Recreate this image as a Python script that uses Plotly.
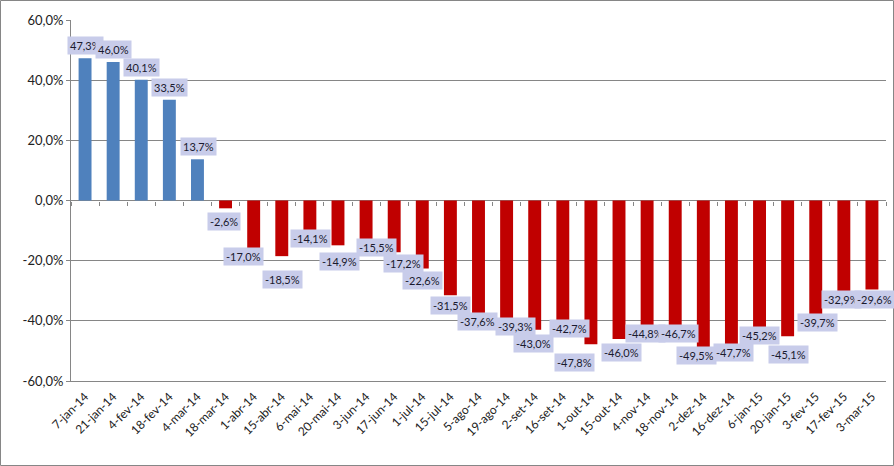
import plotly.graph_objects as go

categories = ["7-jan-14", "21-jan-14", "4-fev-14", "18-fev-14", "4-mar-14", "18-mar-14",
              "1-abr-14", "15-abr-14", "6-mai-14", "20-mai-14", "3-jun-14", "17-jun-14",
              "1-jul-14", "15-jul-14", "5-ago-14", "19-ago-14", "2-set-14", "16-set-14",
              "1-out-14", "15-out-14", "4-nov-14", "18-nov-14", "2-dez-14", "16-dez-14",
              "6-jan-15", "20-jan-15", "3-fev-15", "17-fev-15", "3-mar-15"]
values = [47.3, 46.0, 40.1, 33.5, 13.7, -2.6, -17.0, -18.5, -14.1, -14.9, -15.5, -17.2,
          -22.6, -31.5, -37.6, -39.3, -43.0, -42.7, -47.8, -46.0, -44.8, -46.7, -49.5,
          -47.7, -45.2, -45.1, -39.7, -32.9, -29.6]
y_tickvals = [-60, -40, -20, 0, 20, 40, 60]
y_ticktext = ["-60,0%", "-40,0%", "-20,0%", "0,0%", "20,0%", "40,0%", "60,0%"]

# label offsets (pixels, style only): horizontal shift and downward shift of label centre
label_dx = [0, 0, 0, 0, 1, -2, -10, 1, 1, 2, 10, 9, 0, 0, -1, 9, -1, 7, -16, 2, -2, 3, -7, 2, 0, 1, 2, -2, 3]
label_dy = [-13, -13, -12, -12, -13, 13, 5, 23, -4, 16, 0, 11, 12, 10, 8, 8, 14, 0, 18, 14, -2, -7, 6, 8, -1, 18, 3, 0, 10]

BLUE = "#4F81BD"
RED = "#C00000"
GRID = "#868686"
FONT = "Lato"

colors = [BLUE if v >= 0 else RED for v in values]

fig = go.Figure()
fig.add_trace(go.Bar(x=categories, y=values, marker=dict(color=colors, line=dict(width=0)),
                     hoverinfo="skip"))
# helper invisible trace to carry the category axis crossing at zero
fig.add_trace(go.Scatter(x=categories, y=[0] * len(categories), xaxis="x2", mode="markers",
                         marker=dict(opacity=0), hoverinfo="skip", showlegend=False))

annotations = []
for i, (c, v) in enumerate(zip(categories, values)):
    annotations.append(dict(
        x=c, y=v, xref="x", yref="y",
        text=f"{v:.1f}%".replace(".", ","),
        showarrow=False, xanchor="center", yanchor="middle",
        xshift=label_dx[i], yshift=-label_dy[i],
        bgcolor="#C8CCEA", borderpad=2,
        font=dict(family=FONT, size=11, color="#1a1a2e"),
    ))

fig.update_layout(
    width=894, height=466,
    margin=dict(l=71, r=8, t=20, b=85),
    paper_bgcolor="white", plot_bgcolor="white",
    showlegend=False, bargap=0.54,
    font=dict(family=FONT, size=12, color="#222"),
    annotations=annotations,
    xaxis=dict(type="category", categoryarray=categories, categoryorder="array",
               range=[-0.5, len(categories) - 0.5],
               tickangle=-45, showgrid=False, showline=True, linecolor=GRID, linewidth=1,
               ticks="outside", ticklen=3, tickcolor="rgba(0,0,0,0)",
               tickfont=dict(family=FONT, size=12, color="#222"), fixedrange=True),
    xaxis2=dict(type="category", categoryarray=categories, categoryorder="array",
                range=[-0.5, len(categories) - 0.5], overlaying="x", anchor="free", position=0.5,
                showticklabels=False, showgrid=False, showline=False,
                ticks="outside", ticklen=4, tickcolor=GRID, tickson="boundaries"),
    yaxis=dict(range=[-60, 60], tickvals=y_tickvals, ticktext=y_ticktext,
               showgrid=True, gridcolor=GRID, gridwidth=1,
               zeroline=True, zerolinecolor=GRID, zerolinewidth=1,
               showline=True, linecolor=GRID, linewidth=1,
               ticks="outside", ticklen=4, tickcolor=GRID,
               tickfont=dict(family=FONT, size=13, color="#222")),
    shapes=[dict(type="rect", xref="paper", yref="paper",
                 x0=(0.5 - 71) / 815, x1=(893.5 - 71) / 815,
                 y0=(381 - 465.5) / 361, y1=(381 - 0.5) / 361,
                 line=dict(color=GRID, width=1), fillcolor="rgba(0,0,0,0)", layer="below")],
)

fig.write_html("out.html",
               config={"displayModeBar": False, "staticPlot": True},
               post_script="document.body.style.margin='0';document.body.style.padding='0';")
